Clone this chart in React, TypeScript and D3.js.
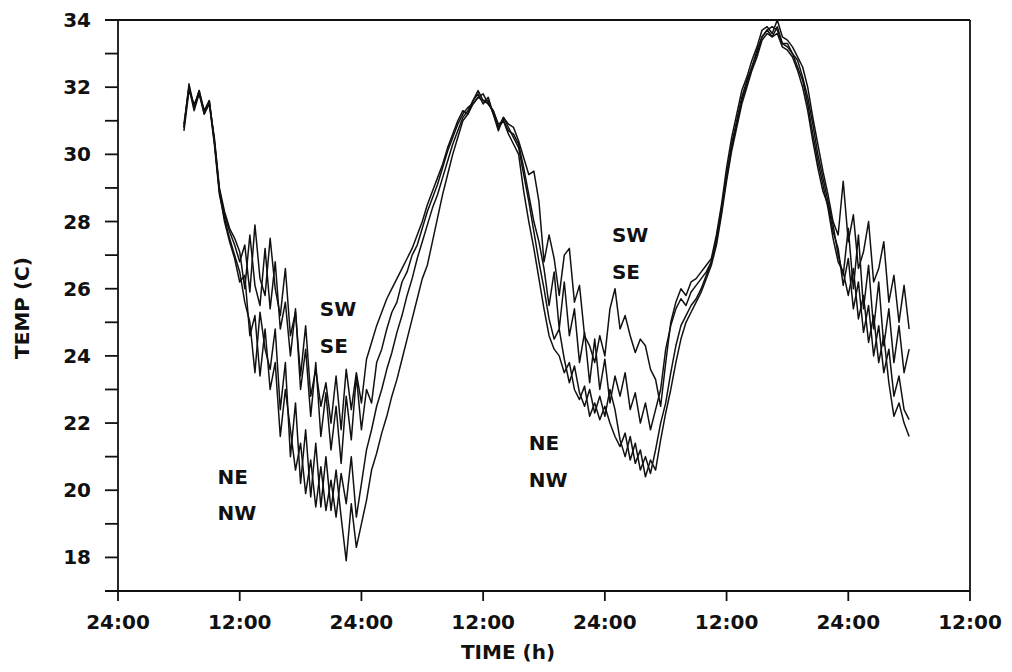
import React, { useEffect, useRef } from "react";
import * as d3 from "d3";

// sample times in hours from the first midnight
const HOURS = [
  6.5, 7, 7.5, 8, 8.5, 9, 9.5, 10, 10.5, 11,
  11.5, 12, 12.5, 13, 13.5, 14, 14.5, 15, 15.5, 16,
  16.5, 17, 17.5, 18, 18.5, 19, 19.5, 20, 20.5, 21,
  21.5, 22, 22.5, 23, 23.5, 24, 24.5, 25, 25.5, 26,
  26.5, 27, 27.5, 28, 28.5, 29, 29.5, 30, 30.5, 31,
  31.5, 32, 32.5, 33, 33.5, 34, 34.5, 35, 35.5, 36,
  36.5, 37, 37.5, 38, 38.5, 39, 39.5, 40, 40.5, 41,
  41.5, 42, 42.5, 43, 43.5, 44, 44.5, 45, 45.5, 46,
  46.5, 47, 47.5, 48, 48.5, 49, 49.5, 50, 50.5, 51,
  51.5, 52, 52.5, 53, 53.5, 54, 54.5, 55, 55.5, 56,
  56.5, 57, 57.5, 58, 58.5, 59, 59.5, 60, 60.5, 61,
  61.5, 62, 62.5, 63, 63.5, 64, 64.5, 65, 65.5, 66,
  66.5, 67, 67.5, 68, 68.5, 69, 69.5, 70, 70.5, 71,
  71.5, 72, 72.5, 73, 73.5, 74, 74.5, 75, 75.5, 76,
  76.5, 77, 77.5, 78,
];

const SW = [
  30.8, 32.1, 31.4, 31.9, 31.2, 31.6, 30.4, 28.9, 28.2, 27.7,
  27.3, 26.8, 27.3, 25.9, 27.9, 26.3, 25.8, 27.5, 26.0, 25.2,
  26.6, 24.6, 25.3, 23.4, 24.9, 22.8, 23.6, 22.5, 23.2, 22.0,
  23.4, 21.8, 23.6, 22.4, 23.5, 22.6, 23.9, 24.4, 24.9, 25.3,
  25.7, 26.0, 26.3, 26.6, 26.9, 27.2, 27.6, 28.0, 28.5, 28.9,
  29.3, 29.7, 30.2, 30.6, 31.0, 31.3, 31.2, 31.6, 31.8, 31.5,
  31.7, 31.2, 30.7, 31.1, 30.9, 30.8, 30.4, 29.9, 29.4, 29.5,
  28.6, 26.8, 27.6, 26.9, 25.8, 27.0, 27.2, 25.6, 26.1, 24.6,
  24.3, 23.8, 24.6, 24.0, 25.4, 26.0, 24.8, 25.2, 24.6, 24.1,
  24.5, 24.3, 23.6, 23.3, 22.5, 23.8, 25.0, 25.6, 26.0, 25.8,
  26.2, 26.3, 26.5, 26.7, 26.9, 27.6, 28.5, 29.6, 30.5, 31.2,
  31.9, 32.3, 32.8, 33.2, 33.7, 33.8, 33.6, 34.0, 33.5, 33.4,
  33.2, 32.9, 32.6, 32.0, 31.1, 30.3, 29.5, 28.8, 28.0, 27.6,
  29.2, 27.4, 28.2, 26.6, 27.1, 28.0, 26.2, 26.6, 27.4, 25.6,
  26.4, 25.0, 26.1, 24.8,
];

const SE = [
  30.7, 31.9, 31.5, 31.8, 31.3, 31.5, 30.5, 29.0, 28.3, 27.8,
  27.5, 27.1, 26.0, 27.6, 26.1, 25.5, 27.2, 25.4, 26.8, 24.8,
  25.6, 24.0, 25.4, 23.0, 24.2, 22.2, 23.8, 21.6, 22.9, 21.2,
  22.5, 20.8, 22.8, 21.5, 23.4, 21.8, 23.0, 22.6, 23.8, 24.2,
  24.8, 25.3, 25.6, 26.2, 26.5, 27.0, 27.3, 27.8, 28.3, 28.7,
  29.1, 29.6, 30.1, 30.5, 30.9, 31.2, 31.4, 31.5, 31.7, 31.6,
  31.5, 31.3, 30.9, 31.0, 30.7, 30.6, 30.3, 29.6, 28.8, 28.0,
  27.4, 26.6, 25.5, 26.5, 24.8, 26.2, 24.6, 25.4, 23.8, 24.7,
  23.2, 24.5, 23.0, 23.9, 22.6, 23.4, 22.8, 23.5, 22.4, 22.9,
  22.0, 22.6, 21.8, 22.4, 23.0, 24.2, 24.9, 25.4, 25.7, 25.5,
  25.9, 26.1, 26.3, 26.5, 26.8, 27.4, 28.3, 29.4, 30.3, 31.0,
  31.7, 32.2, 32.6, 33.1, 33.5, 33.7, 33.8, 33.7, 33.3, 33.3,
  33.0, 32.8, 32.3, 31.7, 30.9, 30.0, 29.3, 28.6, 27.9, 27.0,
  26.4, 27.8, 26.0, 27.6, 25.4, 26.7, 24.8, 26.2, 24.3, 25.4,
  23.8, 24.9, 23.5, 24.2,
];

const NE = [
  30.9, 32.0, 31.3, 31.8, 31.2, 31.5, 30.3, 28.8, 28.1, 27.5,
  27.0, 26.5, 25.6, 25.0, 23.5, 25.3, 24.2, 23.6, 24.8, 22.4,
  23.8, 21.0, 22.6, 20.2, 21.8, 19.8, 21.4, 19.5, 21.0, 19.4,
  20.6, 19.2, 17.9, 19.6, 18.3, 19.0, 19.7, 20.6, 21.1, 21.7,
  22.2, 22.8, 23.3, 23.9, 24.5, 25.1, 25.7, 26.3, 26.7, 27.4,
  28.1, 28.8, 29.4, 30.0, 30.5, 31.0, 31.2, 31.5, 31.7, 31.8,
  31.5, 31.3, 30.8, 31.0, 30.6, 30.3, 30.0, 28.9, 28.0, 27.2,
  26.3, 25.4, 24.6, 24.2, 24.0, 23.5, 23.8, 23.0, 22.7, 23.1,
  22.2, 22.6, 22.1, 22.5, 22.0, 21.6, 21.3, 21.7, 20.9, 21.4,
  20.6, 21.0, 20.5, 21.2, 22.0, 22.6, 23.5, 24.3, 24.9, 25.2,
  25.5, 25.7, 26.0, 26.4, 26.8, 27.5, 28.4, 29.3, 30.2, 30.9,
  31.6, 32.1, 32.6, 33.0, 33.5, 33.7, 33.5, 33.8, 33.3, 33.2,
  33.0, 32.6, 32.2, 31.5, 30.6, 29.8, 29.1, 28.4, 27.5, 26.8,
  26.5, 25.8, 26.6, 25.1, 25.8, 24.4, 25.2, 23.8, 24.6, 23.2,
  22.2, 22.6, 22.0, 21.6,
];

const NW = [
  30.8, 32.0, 31.4, 31.9, 31.3, 31.6, 30.4, 28.9, 28.0, 27.4,
  26.9, 26.2, 26.4, 24.6, 25.2, 23.4, 24.8, 23.0, 23.8, 21.6,
  23.0, 21.8, 20.6, 21.4, 19.9, 20.9, 19.5, 20.7, 19.4, 20.3,
  19.2, 20.5, 19.6, 21.0, 19.2, 20.2, 21.2, 21.8, 22.5, 23.0,
  23.6, 24.1, 24.7, 25.2, 25.8, 26.3, 26.9, 27.4, 27.9, 28.4,
  28.8, 29.3, 29.8, 30.3, 30.7, 31.1, 31.3, 31.6, 31.9, 31.6,
  31.6, 31.2, 30.8, 31.1, 30.8, 30.5, 30.2, 29.4, 28.6, 27.7,
  26.8, 26.0, 25.1, 24.5, 24.8, 23.9, 23.2, 23.7, 22.9, 22.5,
  23.0, 22.3, 22.8, 22.2, 23.0, 22.4, 21.5, 21.0, 21.6, 20.8,
  21.2, 20.4, 20.9, 20.6, 21.5, 22.3, 23.0, 23.8, 24.5, 25.0,
  25.3, 25.6, 25.9, 26.3, 26.7, 27.3, 28.2, 29.2, 30.1, 30.8,
  31.5, 32.0, 32.5, 32.9, 33.4, 33.6, 33.5, 33.6, 33.2, 33.1,
  32.9, 32.5, 32.0, 31.3, 30.4, 29.6, 28.9, 28.5, 27.7, 27.2,
  26.1, 26.9, 25.4, 26.2, 24.7, 25.5, 24.0, 24.9, 23.5, 24.2,
  22.8, 23.4, 22.4, 22.1,
];

const SERIES = [NE, NW, SE, SW];

const X_TICKS = [0, 12, 24, 36, 48, 60, 72, 84];
const X_TICK_LABELS = ["24:00", "12:00", "24:00", "12:00", "24:00", "12:00", "24:00", "12:00"];
const Y_LABEL_TICKS = [18, 20, 22, 24, 26, 28, 30, 32, 34];

// site labels written into the plot: [text, hour, temp]
const NOTES: [string, number, number][] = [
  ["SW", 19.9, 25.2],
  ["SE", 19.9, 24.1],
  ["NE", 9.8, 20.2],
  ["NW", 9.8, 19.1],
  ["NE", 40.5, 21.2],
  ["NW", 40.5, 20.1],
  ["SW", 48.7, 27.4],
  ["SE", 48.7, 26.3],
];

const FONT = "'DejaVu Sans', Verdana, sans-serif";

const App = () => {
  const ref = useRef<SVGSVGElement | null>(null);
  const width = 1012;
  const height = 672;

  useEffect(() => {
    if (!ref.current) return;
    const svg = d3.select(ref.current);
    svg.selectAll("*").remove();

    const x = d3.scaleLinear().domain([0, 84]).range([118, 970]);
    const y = d3.scaleLinear().domain([17, 34]).range([591, 20]);
    const left = x(0);
    const right = x(84);
    const top = y(34);
    const bottom = y(17);

    const ink = "#111";

    // frame
    const frame = svg.append("g").attr("stroke", ink).attr("stroke-width", 1.8).attr("fill", "none");
    frame.append("line").attr("x1", left - 13).attr("x2", right).attr("y1", top).attr("y2", top);
    frame.append("line").attr("x1", left - 13).attr("x2", right).attr("y1", bottom).attr("y2", bottom);
    frame.append("line").attr("x1", left).attr("x2", left).attr("y1", top).attr("y2", bottom);
    frame.append("line").attr("x1", right).attr("x2", right).attr("y1", top).attr("y2", bottom);

    // y ticks, one per degree
    d3.range(18, 34, 1).forEach((v) => {
      frame.append("line").attr("x1", left - 13).attr("x2", left).attr("y1", y(v)).attr("y2", y(v));
    });
    X_TICKS.forEach((h) => {
      frame.append("line").attr("x1", x(h)).attr("x2", x(h)).attr("y1", bottom).attr("y2", bottom + 10);
    });

    const txt = svg
      .append("g")
      .attr("fill", ink)
      .style("font-family", FONT)
      .style("font-weight", "bold")
      .style("font-size", "20px");

    Y_LABEL_TICKS.forEach((v) => {
      txt
        .append("text")
        .attr("x", 91)
        .attr("y", y(v))
        .attr("text-anchor", "end")
        .attr("dominant-baseline", "central")
        .text(v);
    });
    X_TICKS.forEach((h, i) => {
      txt
        .append("text")
        .attr("x", x(h))
        .attr("y", 629)
        .attr("text-anchor", "middle")
        .text(X_TICK_LABELS[i]);
    });
    txt.append("text").attr("x", 508).attr("y", 659).attr("text-anchor", "middle").text("TIME (h)");
    txt
      .append("text")
      .attr("transform", "translate(29,308) rotate(-90)")
      .attr("text-anchor", "middle")
      .text("TEMP (C)");

    NOTES.forEach(([t, h, v]) => {
      txt.append("text").attr("x", x(h)).attr("y", y(v)).text(t);
    });

    // the four sensor traces
    const line = d3
      .line<number>()
      .x((_, i) => x(HOURS[i]))
      .y((d) => y(d));

    SERIES.forEach((s) => {
      svg
        .append("path")
        .datum(s)
        .attr("d", line)
        .attr("fill", "none")
        .attr("stroke", ink)
        .attr("stroke-width", 1.5)
        .attr("stroke-linejoin", "round");
    });
  }, []);

  return (
    <svg
      ref={ref}
      width={width}
      height={height}
      style={{ position: "absolute", left: 0, top: 0, background: "white" }}
    ></svg>
  );
};

export default App;
